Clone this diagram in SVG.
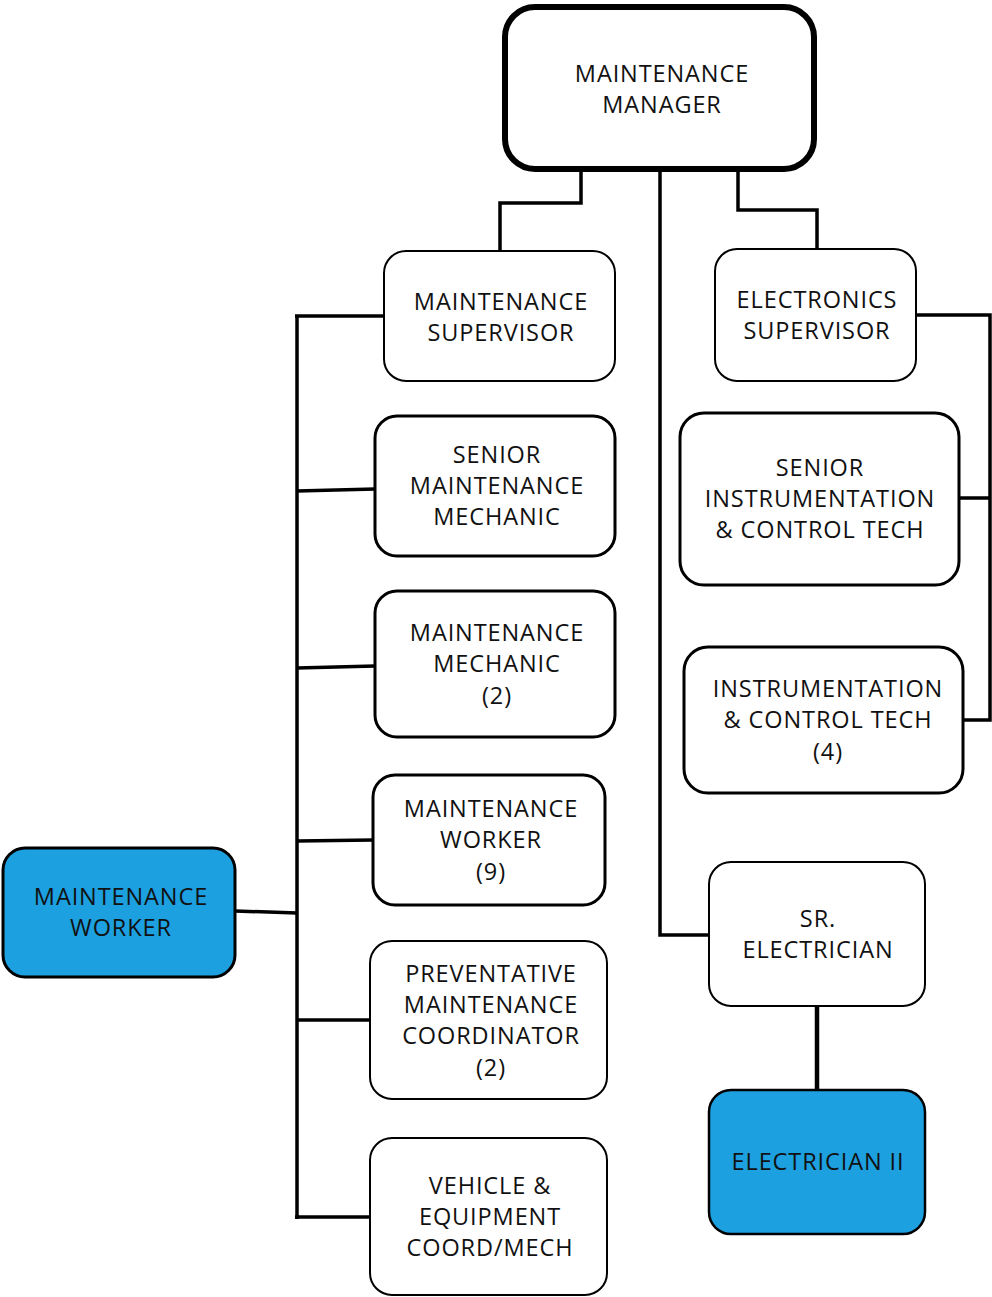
<svg xmlns="http://www.w3.org/2000/svg" width="992" height="1297" viewBox="0 0 992 1297">
  <style>
    .box { fill: #ffffff; stroke: #000000; }
    .blue { fill: #1ca0e0; stroke: #000000; }
    .lbl { font-family: "Open Sans", "Noto Sans", sans-serif; font-size: 23.5px; letter-spacing: 0.9px; fill: #111111; text-anchor: middle; }
    .wire { fill: none; stroke: #000000; stroke-width: 3.5; stroke-linejoin: miter; }
  </style>
  <rect width="992" height="1297" fill="#ffffff"/>

  <!-- connectors -->
  <g id="connectors" class="wire">
    <polyline points="581,170 581,203 500,203 500,251"/>
    <polyline points="660,170 660,935 710,935"/>
    <polyline points="738,170 738,210 817,210 817,249"/>
    <line x1="297" y1="316" x2="297" y2="1219"/>
    <line x1="295" y1="316" x2="384" y2="316"/>
    <line x1="297" y1="491" x2="375" y2="489"/>
    <line x1="297" y1="668" x2="375" y2="666"/>
    <line x1="297" y1="841" x2="373" y2="840"/>
    <line x1="297" y1="1020" x2="370" y2="1020"/>
    <line x1="295" y1="1217" x2="370" y2="1217"/>
    <line x1="235" y1="911" x2="297" y2="913"/>
    <polyline points="916,315 990,315 990,720 963,720"/>
    <line x1="959" y1="498" x2="990" y2="498"/>
    <line x1="817" y1="1006" x2="817" y2="1090" stroke-width="4.5"/>
  </g>

  <g id="maintenance-manager">
    <rect class="box" x="505" y="7" width="309" height="162" rx="30" stroke-width="6"/>
    <text class="lbl" x="662" y="82">MAINTENANCE</text>
    <text class="lbl" x="662" y="113">MANAGER</text>
  </g>

  <g id="maintenance-supervisor">
    <rect class="box" x="384" y="251" width="231" height="130" rx="22" stroke-width="2"/>
    <text class="lbl" x="501" y="310">MAINTENANCE</text>
    <text class="lbl" x="501" y="341">SUPERVISOR</text>
  </g>

  <g id="senior-maintenance-mechanic">
    <rect class="box" x="375" y="416" width="240" height="140" rx="22" stroke-width="3"/>
    <text class="lbl" x="497" y="463">SENIOR</text>
    <text class="lbl" x="497" y="494">MAINTENANCE</text>
    <text class="lbl" x="497" y="525">MECHANIC</text>
  </g>

  <g id="maintenance-mechanic">
    <rect class="box" x="375" y="591" width="240" height="146" rx="22" stroke-width="3"/>
    <text class="lbl" x="497" y="641">MAINTENANCE</text>
    <text class="lbl" x="497" y="672">MECHANIC</text>
    <text class="lbl" x="497" y="704">(2)</text>
  </g>

  <g id="maintenance-worker-9">
    <rect class="box" x="373" y="775" width="232" height="130" rx="22" stroke-width="3"/>
    <text class="lbl" x="491" y="817">MAINTENANCE</text>
    <text class="lbl" x="491" y="848">WORKER</text>
    <text class="lbl" x="491" y="880">(9)</text>
  </g>

  <g id="preventative-maintenance-coordinator">
    <rect class="box" x="370" y="941" width="237" height="158" rx="22" stroke-width="2"/>
    <text class="lbl" x="491" y="982">PREVENTATIVE</text>
    <text class="lbl" x="491" y="1013">MAINTENANCE</text>
    <text class="lbl" x="491" y="1044">COORDINATOR</text>
    <text class="lbl" x="491" y="1076">(2)</text>
  </g>

  <g id="vehicle-equipment-coord">
    <rect class="box" x="370" y="1138" width="237" height="157" rx="22" stroke-width="2"/>
    <text class="lbl" x="490" y="1194">VEHICLE &amp;</text>
    <text class="lbl" x="490" y="1225">EQUIPMENT</text>
    <text class="lbl" x="490" y="1256">COORD/MECH</text>
  </g>

  <g id="maintenance-worker-new">
    <rect class="blue" x="3" y="848" width="232" height="129" rx="22" stroke-width="3"/>
    <text class="lbl" x="121" y="905">MAINTENANCE</text>
    <text class="lbl" x="121" y="936">WORKER</text>
  </g>

  <g id="electronics-supervisor">
    <rect class="box" x="715" y="249" width="201" height="132" rx="22" stroke-width="2"/>
    <text class="lbl" x="817" y="308">ELECTRONICS</text>
    <text class="lbl" x="817" y="339">SUPERVISOR</text>
  </g>

  <g id="senior-instrumentation-control-tech">
    <rect class="box" x="680" y="413" width="279" height="172" rx="24" stroke-width="3"/>
    <text class="lbl" x="820" y="476">SENIOR</text>
    <text class="lbl" x="820" y="507">INSTRUMENTATION</text>
    <text class="lbl" x="820" y="538">&amp; CONTROL TECH</text>
  </g>

  <g id="instrumentation-control-tech">
    <rect class="box" x="684" y="647" width="279" height="146" rx="24" stroke-width="3"/>
    <text class="lbl" x="828" y="697">INSTRUMENTATION</text>
    <text class="lbl" x="828" y="728">&amp; CONTROL TECH</text>
    <text class="lbl" x="828" y="760">(4)</text>
  </g>

  <g id="sr-electrician">
    <rect class="box" x="709" y="862" width="216" height="144" rx="22" stroke-width="2"/>
    <text class="lbl" x="818" y="927">SR.</text>
    <text class="lbl" x="818" y="958">ELECTRICIAN</text>
  </g>

  <g id="electrician-ii">
    <rect class="blue" x="709" y="1090" width="216" height="144" rx="22" stroke-width="2.5"/>
    <text class="lbl" x="818" y="1170">ELECTRICIAN II</text>
  </g>
</svg>
